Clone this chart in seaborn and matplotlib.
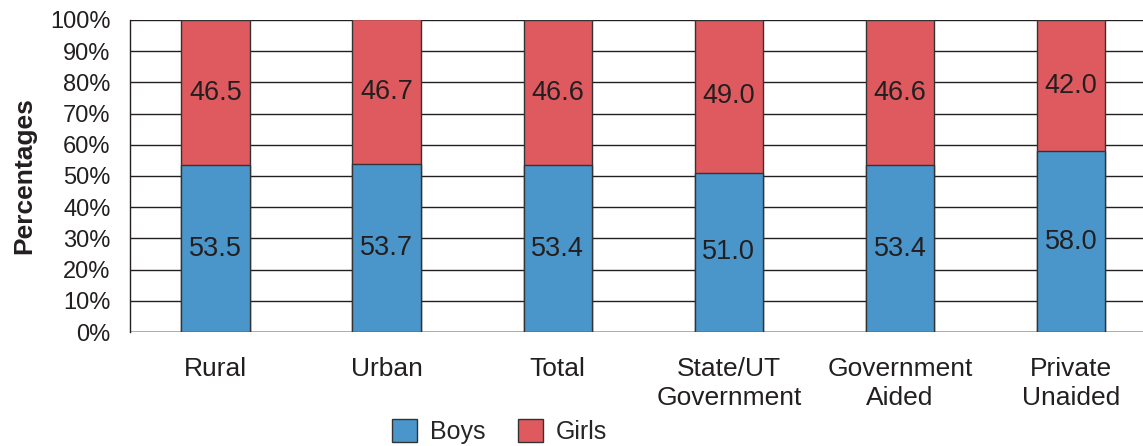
import pandas as pd
import seaborn as sns
import matplotlib.pyplot as plt
from matplotlib.patches import Patch

# Data
categories = ["Rural", "Urban", "Total", "State/UT\nGovernment", "Government\nAided", "Private\nUnaided"]
boys = [53.5, 53.7, 53.4, 51.0, 53.4, 58.0]
girls = [46.5, 46.7, 46.6, 49.0, 46.6, 42.0]

blue = "#4A96CB"
red = "#DE5A5F"

df = pd.DataFrame({"Category": categories, "Boys": boys, "Girls": girls})
df["Total"] = df["Boys"] + df["Girls"]

sns.set_style("white")
plt.rcParams["font.family"] = ["Liberation Sans", "DejaVu Sans"]

fig = plt.figure(figsize=(11.43, 4.46), dpi=100)
ax = fig.add_axes([0.1137, 0.2556, 0.8863, 0.6996])

# Stack: girls bar from 0 to total, then boys drawn over it
sns.barplot(data=df, x="Category", y="Total", color=red, width=0.4, saturation=1,
            edgecolor="#333333", linewidth=1, ax=ax, zorder=3)
sns.barplot(data=df, x="Category", y="Boys", color=blue, width=0.4, saturation=1,
            edgecolor="#333333", linewidth=1, ax=ax, zorder=4)

for i, (b, g) in enumerate(zip(boys, girls)):
    ax.text(i, b / 2, f"{b:.1f}", ha="center", va="center", fontsize=19.5, color="#231f20", zorder=5)
    ax.text(i, b + g / 2, f"{g:.1f}", ha="center", va="center", fontsize=19.5, color="#231f20", zorder=5)

ax.set_ylim(0, 100)
ax.set_xlim(-0.5, 5.42)
ax.set_yticks(range(0, 101, 10))
ax.set_yticklabels([f"{v}%" for v in range(0, 101, 10)], fontsize=17, color="#231f20")
ax.yaxis.grid(True, color="#231f20", linewidth=1, zorder=0)
ax.set_axisbelow(True)

# x ticks between categories, labels at centers
ax.set_xticks([i - 0.5 for i in range(len(categories))])
ax.set_xticklabels([])
ax.set_xticks(range(len(categories)), minor=True)
ax.set_xticklabels(categories, minor=True, fontsize=19, color="#231f20", linespacing=1.28)
ax.tick_params(axis="x", which="major", direction="out", length=10, width=1, color="#231f20")
ax.tick_params(axis="x", which="minor", length=0, pad=18)
ax.tick_params(axis="y", direction="out", length=10, width=1, color="#231f20", pad=4)

for side in ["top", "right", "bottom"]:
    ax.spines[side].set_visible(False)
ax.spines["left"].set_color("#231f20")
ax.spines["left"].set_linewidth(1)
ax.axhline(0, color="#231f20", linewidth=1, zorder=2)

ax.set_xlabel("")
ax.set_ylabel("Percentages", fontsize=19, fontweight="bold", color="#231f20", labelpad=10)

handles = [Patch(facecolor=blue, edgecolor="#333333", label="Boys"),
           Patch(facecolor=red, edgecolor="#333333", label="Girls")]
fig.legend(handles=handles, loc="center", bbox_to_anchor=(0.437, 0.032), ncol=2, frameon=False,
           fontsize=18, handlelength=1.0, handleheight=1.0, columnspacing=1.3, handletextpad=0.5)

fig.savefig("out.png", dpi=100)
